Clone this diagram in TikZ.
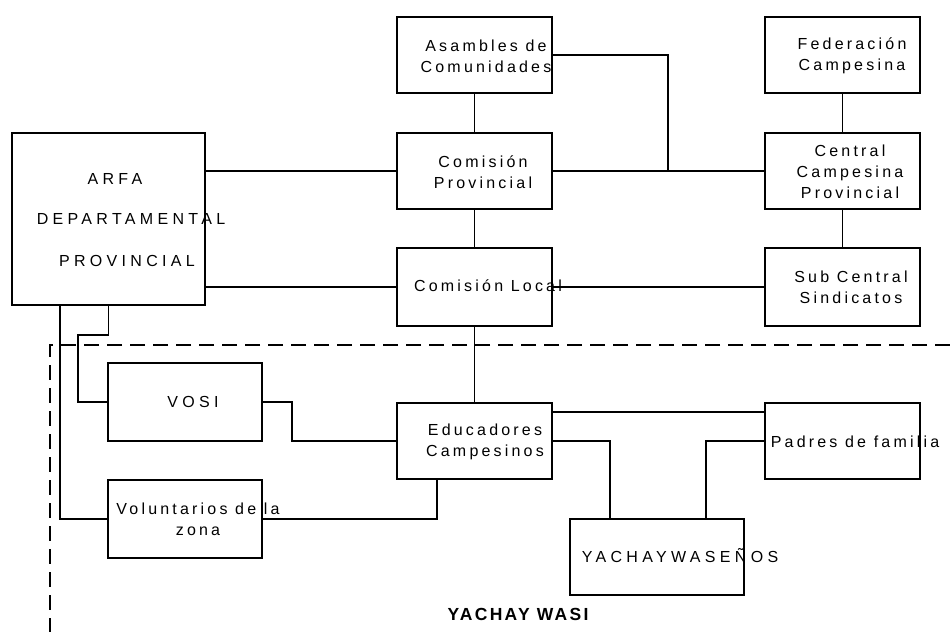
\documentclass[tikz,border=0pt]{standalone}
\usepackage{fontspec}
\setmainfont{Liberation Sans}
\newfontfamily\lsfont{Liberation Sans}[LetterSpace=20]
\newfontfamily\capsfont{Liberation Sans}[LetterSpace=27]
\newfontfamily\titlefont{Liberation Sans}[LetterSpace=13]
\begin{document}
\begin{tikzpicture}[x=1pt,y=-1pt,
  box/.style={draw, line width=1.6pt, minimum width=155pt, minimum height=76pt, inner sep=0pt, outer sep=0pt},
  conn/.style={draw, line width=1.6pt},
  frame/.style={draw, line width=1.6pt, dash pattern=on 15pt off 8pt},
  txt/.style={font=\lsfont\fontsize{16}{21}\selectfont, align=center, inner sep=0pt},
  capstxt/.style={font=\capsfont\fontsize{16}{20}\selectfont, inner sep=0pt, anchor=base},
  titletxt/.style={font=\titlefont\bfseries\fontsize{17.5}{20}\selectfont, inner sep=0pt, anchor=base}]
\useasboundingbox (0,0) rectangle (950,632);

% frame of YACHAY WASI
\draw[frame] (950,345) -- (50,345) -- (50,632);

% boxes
\node[box, minimum width=193pt, minimum height=172pt] (arfa) at (108.5,219) {};
\node[box] (asam) at (474.5,55) {};
\node[box] (cprov) at (474.5,171) {};
\node[box, minimum height=78pt] (cloc) at (474.5,287) {};
\node[box] (fed) at (842.5,55) {};
\node[box] (cent) at (842.5,171) {};
\node[box, minimum height=78pt] (sub) at (842.5,287) {};
\node[box] (edu) at (474.5,441) {};
\node[box] (pad) at (842.5,441) {};
\node[box, minimum width=154pt, minimum height=78pt] (vosi) at (185,402) {};
\node[box, minimum width=154pt, minimum height=78pt] (vol) at (185,519) {};
\node[box, minimum width=174pt] (yach) at (657,557) {};

% connectors
\coordinate (j1) at (668,171);
\draw[conn] (arfa.east |- cprov.west) -- (cprov.west);
\draw[conn] (arfa.east |- cloc.west) -- (cloc.west);
\draw[conn] (asam.south) -- (cprov.north);
\draw[conn] (cprov.south) -- (cloc.north);
\draw[conn] (cloc.south) -- (edu.north);
\draw[conn] (cprov.east) -- (cent.west);
\draw[conn] (asam.east) -| (j1);
\draw[conn] (fed.south) -- (cent.north);
\draw[conn] (cent.south) -- (sub.north);
\draw[conn] (cloc.east) -- (sub.west);
\draw[conn] ([xshift=-48.5pt]arfa.south) |- (vol.west);
\draw[conn] (arfa.south) -- ++(0,30) -| ([xshift=-30pt]vosi.west) -- (vosi.west);
\draw[conn] (vosi.east) -- ++(30,0) |- (edu.west);
\draw[conn] (vol.east) -| ([xshift=-37.5pt]edu.south);
\draw[conn] ([yshift=29pt]edu.east) -- ([yshift=29pt]pad.west);
\draw[conn] (edu.east) -| ([xshift=-47pt]yach.north);
\draw[conn] (pad.west) -| ([xshift=49pt]yach.north);

% texts
\node[capstxt] (a1) at (115,184) {ARFA};
\node[capstxt] (a2) at (131,224) {DEPARTAMENTAL};
\node[capstxt] (a3) at (127,266) {PROVINCIAL};
\node[txt] (tasam) at (486,56) {Asambles de\\Comunidades};
\node[txt] (tcprov) at (483,172) {Comisión\\Provincial};
\node[txt] (tcloc) at (488,286) {Comisión Local};
\node[txt] (tfed) at (852,56) {Federación\\Campesina};
\node[txt] (tcent) at (850,172) {Central\\Campesina\\Provincial};
\node[txt] (tsub) at (851,287) {Sub Central\\Sindicatos};
\node[txt] (tedu) at (485,442) {Educadores\\Campesinos};
\node[txt] (tpad) at (855,442) {Padres de familia};
\node[capstxt, anchor=center] (tvosi) at (193,402) {VOSI};
\node[txt] (tvol) at (198,519) {Voluntarios de la\\zona\hspace{20pt}};
\node[capstxt, anchor=center] (tyach) at (680,556) {YACHAYWASEÑOS};
\node[titletxt] (title) at (518,620) {YACHAY WASI};
\end{tikzpicture}
\end{document}
